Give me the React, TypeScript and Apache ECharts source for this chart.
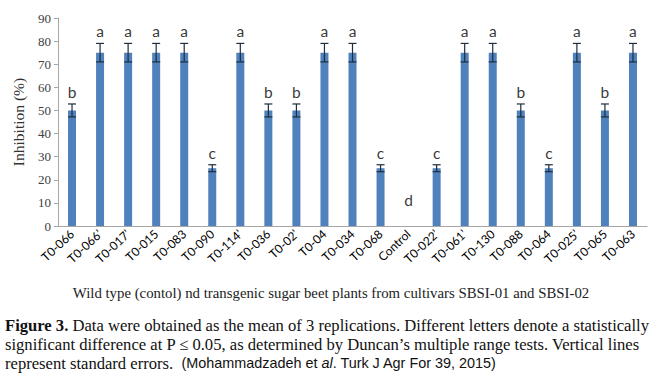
import React, { useEffect, useRef } from "react";
import * as echarts from "echarts";

const categories = [
  "T0-066", "T0-066’", "T0-017’", "T0-015", "T0-083", "T0-090", "T0-114’",
  "T0-036", "T0-02’", "T0-04", "T0-034", "T0-068", "Control", "T0-022’",
  "T0-061’", "T0-130", "T0-088", "T0-064", "T0-025’", "T0-065", "T0-063",
];
const inhibition = [50, 75, 75, 75, 75, 25, 75, 50, 50, 75, 75, 25, 0, 25, 75, 75, 50, 25, 75, 50, 75];
const stdErr = [2.8, 4, 4, 4, 4, 1.5, 4, 2.8, 2.8, 4, 4, 1.5, 0, 1.5, 4, 4, 2.8, 1.5, 4, 2.8, 4];
const letters = ["b", "a", "a", "a", "a", "c", "a", "b", "b", "a", "a", "c", "d", "c", "a", "a", "b", "c", "a", "b", "a"];
const controlLetterY = 6;

const yTicks = { min: 0, max: 90, interval: 10 };

const xTitle = "Wild type (contol) nd transgenic sugar beet plants from cultivars SBSI-01 and SBSI-02";
const yTitle = "Inhibition (%)";

export default function App() {
  const ref = useRef<HTMLDivElement>(null);
  useEffect(() => {
    if (!ref.current) return;
    const chart = echarts.init(ref.current, null, { renderer: "svg" });
    const serif = "'Liberation Serif', 'DejaVu Serif', serif";
    const sans = "Lato, 'Open Sans', sans-serif";
    const arial = "'Liberation Sans', Arial, sans-serif";
    const capSize = 16.6;
    chart.setOption({
      animation: false,
      backgroundColor: "#ffffff",
      grid: { left: 58, right: 10, top: 18, bottom: 157 },
      xAxis: {
        type: "category",
        data: categories,
        axisLine: { lineStyle: { color: "#a6a6a6" } },
        axisTick: { show: false },
        axisLabel: {
          interval: 0,
          rotate: 43,
          fontFamily: sans,
          fontSize: 12,
          color: "#000",
          margin: 6,
        },
      },
      yAxis: {
        type: "value",
        min: yTicks.min,
        max: yTicks.max,
        interval: yTicks.interval,
        name: yTitle,
        nameLocation: "middle",
        nameGap: 32,
        nameTextStyle: { fontFamily: serif, fontSize: 15.5, color: "#333" },
        splitLine: { show: false },
        axisLine: { show: true, lineStyle: { color: "#a6a6a6" } },
        axisTick: { show: true, length: 4, lineStyle: { color: "#a6a6a6" } },
        axisLabel: { fontFamily: serif, fontSize: 13, color: "#404040", margin: 7 },
      },
      series: [
        {
          type: "bar",
          data: inhibition,
          barWidth: 8,
          itemStyle: { color: "#4f81bd" },
        },
        {
          type: "custom",
          data: inhibition.map((v, i) => [i, v - stdErr[i], v + stdErr[i]]),
          renderItem: (params: any, api: any) => {
            const i = api.value(0);
            if (stdErr[i] === 0) return null;
            const lo = api.coord([i, api.value(1)]);
            const hi = api.coord([i, api.value(2)]);
            const hw = 4;
            const style = { stroke: "#1f2d3d", lineWidth: 1.2 };
            return {
              type: "group",
              children: [
                { type: "line", shape: { x1: lo[0], y1: lo[1], x2: hi[0], y2: hi[1] }, style },
                { type: "line", shape: { x1: hi[0] - hw, y1: hi[1], x2: hi[0] + hw, y2: hi[1] }, style },
                { type: "line", shape: { x1: lo[0] - hw, y1: lo[1], x2: lo[0] + hw, y2: lo[1] }, style },
              ],
            };
          },
          z: 3,
        },
        {
          type: "scatter",
          symbolSize: 0,
          data: inhibition.map((v, i) => [i, v === 0 ? controlLetterY : v + stdErr[i]]),
          label: {
            show: true,
            position: "top",
            distance: 4,
            formatter: (p: any) => letters[p.dataIndex],
            fontFamily: sans,
            fontSize: 15.5,
            color: "#000",
          },
          z: 4,
        },
      ],
      graphic: [
        {
          type: "text",
          x: 331,
          y: 293,
          style: { text: xTitle, fontFamily: serif, fontSize: 14.8, fill: "#222", align: "center", verticalAlign: "middle" },
        },
        {
          type: "text",
          x: 5,
          y: 325,
          style: {
            text: "{b|Figure 3.} Data were obtained as the mean of 3 replications. Different letters denote a statistically",
            fontFamily: serif,
            fontSize: capSize,
            fill: "#111",
            verticalAlign: "middle",
            rich: { b: { fontFamily: serif, fontSize: capSize, fontWeight: "bold", fill: "#111" } },
          },
        },
        {
          type: "text",
          x: 5,
          y: 344,
          style: {
            text: "significant difference at P ≤ 0.05, as determined by Duncan’s multiple range tests. Vertical lines",
            fontFamily: serif,
            fontSize: capSize,
            fill: "#111",
            verticalAlign: "middle",
          },
        },
        {
          type: "text",
          x: 5,
          y: 363,
          style: {
            text: "represent standard errors.  {s|(Mohammadzadeh et }{i|al}{s|. Turk J Agr For 39, 2015)}",
            fontFamily: serif,
            fontSize: capSize,
            fill: "#111",
            verticalAlign: "middle",
            rich: {
              s: { fontFamily: arial, fontSize: 14.4, fill: "#111" },
              i: { fontFamily: arial, fontSize: 14.4, fontStyle: "italic", fill: "#111" },
            },
          },
        },
      ],
    });
    return () => chart.dispose();
  }, []);
  return <div ref={ref} style={{ position: "fixed", left: 0, top: 0, width: 657, height: 383 }} />;
}
